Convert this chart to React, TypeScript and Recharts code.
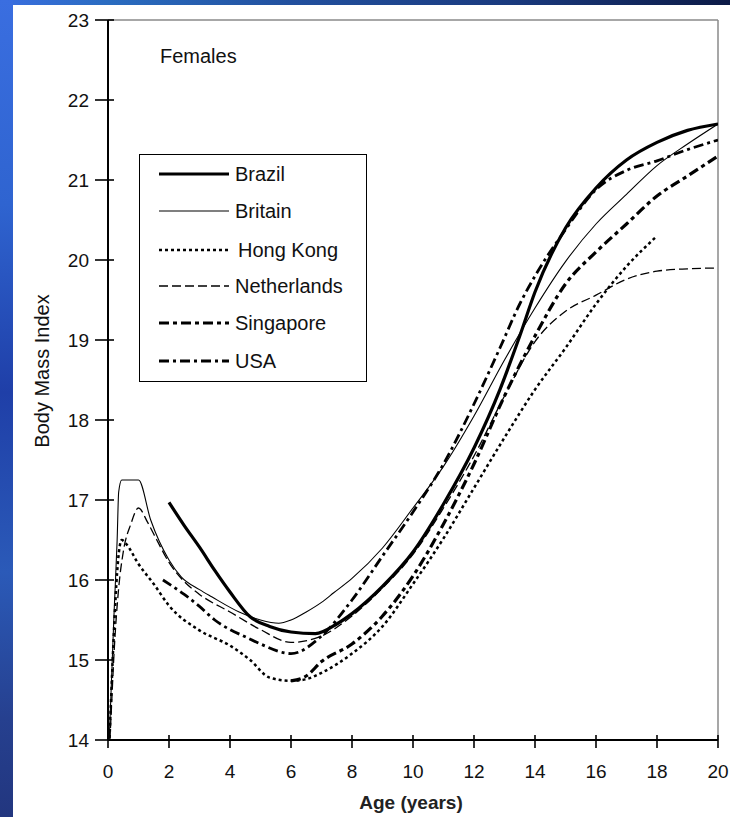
import React from 'react';
import { LineChart, Line, XAxis, YAxis, ReferenceLine, Legend, Label } from 'recharts';

// ---- Data (age in years, median BMI) ----
const ageTicks = [0, 2, 4, 6, 8, 10, 12, 14, 16, 18, 20];
const bmiTicks = [14, 15, 16, 17, 18, 19, 20, 21, 22, 23];

const brazil = [
  [2, 16.97], [2.5, 16.68], [3, 16.41], [3.5, 16.12], [4, 15.85], [4.66, 15.54], [5.3, 15.42],
  [6, 15.35], [6.8, 15.33], [7.5, 15.45], [8, 15.58], [9, 15.92], [10, 16.35], [11, 16.95],
  [12, 17.65], [12.85, 18.38], [13.5, 19.05], [14, 19.6], [15, 20.4], [16, 20.9], [17, 21.25],
  [18, 21.47], [19, 21.62], [20, 21.7],
];
const britain = [
  [0, 13.6], [0.1, 14.6], [0.2, 15.6], [0.3, 16.5], [0.35, 17.1], [0.45, 17.25], [1.0, 17.25],
  [1.4, 16.75], [2, 16.25], [2.4, 16.04], [3, 15.88], [3.4, 15.79], [4.3, 15.6], [5, 15.5],
  [5.6, 15.46], [6, 15.5], [6.5, 15.6], [7, 15.72], [7.4, 15.84], [8, 16.02], [9, 16.4],
  [10, 16.9], [11, 17.42], [12, 18.05], [13, 18.75], [14, 19.4], [15, 19.98], [16, 20.45],
  [17, 20.82], [18, 21.18], [19, 21.45], [20, 21.7],
];
const hongKong = [
  [0, 13.5], [0.1, 14.5], [0.2, 15.4], [0.3, 16.1], [0.45, 16.5], [0.6, 16.45], [1, 16.2],
  [1.5, 15.95], [2, 15.68], [3, 15.37], [4, 15.18], [4.66, 15.0], [5.3, 14.78], [6, 14.74],
  [6.5, 14.76], [7, 14.84], [8, 15.08], [9, 15.42], [10, 15.95], [11, 16.52], [12, 17.15],
  [13, 17.78], [14, 18.38], [15, 18.9], [16, 19.45], [17, 19.92], [18, 20.3],
];
const netherlands = [
  [0, 13.5], [0.1, 14.3], [0.2, 15.1], [0.35, 15.9], [0.5, 16.35], [0.75, 16.7], [1, 16.9],
  [1.3, 16.72], [1.6, 16.5], [2, 16.22], [2.5, 15.98], [3, 15.82], [4, 15.6], [5, 15.38],
  [6, 15.22], [7, 15.3], [8, 15.55], [9, 15.9], [10, 16.32], [11, 16.9], [12, 17.55],
  [13, 18.3], [14, 18.98], [15, 19.36], [16, 19.56], [17, 19.76], [18, 19.86], [19, 19.89],
  [20, 19.9],
];
const singapore = [
  [6, 14.74], [6.5, 14.8], [7, 14.98], [8, 15.2], [9, 15.55], [10, 16.05], [11, 16.7],
  [12, 17.45], [13, 18.3], [14, 19.05], [15, 19.7], [16, 20.1], [17, 20.45], [18, 20.8],
  [19, 21.05], [20, 21.3],
];
const usa = [
  [1.8, 16.0], [2.5, 15.82], [3, 15.67], [3.5, 15.5], [4, 15.38], [4.5, 15.29], [5, 15.2],
  [6, 15.08], [7, 15.3], [8, 15.75], [9, 16.3], [10, 16.85], [11, 17.45], [12, 18.2],
  [12.85, 18.9], [13.5, 19.45], [14, 19.8], [15, 20.38], [16, 20.88], [17, 21.12],
  [18, 21.24], [19, 21.38], [20, 21.5],
];

const toRows = (pairs: number[][]) => pairs.map(([age, bmi]) => ({ age, bmi }));

const series = [
  { name: 'Brazil', data: brazil, width: 3.2, dash: undefined as string | undefined },
  { name: 'Britain', data: britain, width: 1.1, dash: undefined as string | undefined },
  { name: 'Hong Kong', data: hongKong, width: 2.5, dash: '3 3' },
  { name: 'Netherlands', data: netherlands, width: 1.3, dash: '9 4' },
  { name: 'Singapore', data: singapore, width: 3.2, dash: '10 4 4 4' },
  { name: 'USA', data: usa, width: 2.8, dash: '10 4 3 4' },
];

const FONT = '"Liberation Sans", Arial, sans-serif';

const YTick = (props: any) => {
  const { x, y, payload } = props;
  return (
    <g>
      <line x1={x - 13} x2={x + 6} y1={y} y2={y} stroke="#000" strokeWidth={1.6} />
      <text x={x - 19} y={y} dy="0.36em" textAnchor="end" fontSize={19} fontFamily={FONT} fill="#111">
        {payload.value}
      </text>
    </g>
  );
};

const XTick = (props: any) => {
  const { x, y, payload } = props;
  return (
    <g>
      <line x1={x} x2={x} y1={y - 5} y2={y + 8} stroke="#000" strokeWidth={1.6} />
      <text x={x} y={y + 31} dy="0.36em" textAnchor="middle" fontSize={19} fontFamily={FONT} fill="#111">
        {payload.value}
      </text>
    </g>
  );
};

const renderLegend = () => (
  <div
    style={{
      width: 228,
      height: 228,
      boxSizing: 'border-box',
      border: '1.5px solid #000',
      background: '#fff',
      position: 'relative',
      fontFamily: FONT,
    }}
  >
    {series.map((s, i) => {
      const top = [19, 56, 95, 131, 168, 206][i];
      return (
        <div key={s.name} style={{ position: 'absolute', left: 18, top: top - 12, height: 24, display: 'flex', alignItems: 'center' }}>
          <svg width={72} height={24} style={{ display: 'block' }}>
            <line x1={1} x2={71} y1={12} y2={12} stroke="#000" strokeWidth={s.width} strokeDasharray={s.dash} />
          </svg>
          <span style={{ fontSize: 20, color: '#111', marginLeft: s.name === 'Hong Kong' ? 8 : 5, whiteSpace: 'nowrap' }}>{s.name}</span>
        </div>
      );
    })}
  </div>
);

export default function App() {
  return (
    <div style={{ position: 'absolute', left: 0, top: 0, width: 730, height: 817, background: '#fff', overflow: 'hidden' }}>
      <div
        style={{
          position: 'absolute', left: 0, top: 0, width: 730, height: 5,
          background: 'linear-gradient(to right, #3a6ee0 0%, #2a6cc0 15%, #22509e 40%, #1a3a7e 70%, #0c1a46 100%)',
        }}
      />
      <div
        style={{
          position: 'absolute', left: 0, top: 0, width: 13, height: 817,
          background: 'linear-gradient(to bottom, #3a6ee0 0%, #2f64d0 25%, #1f3fa8 48%, #2b5ab8 70%, #26408f 88%, #22367f 100%)',
        }}
      />
      <div style={{ position: 'absolute', left: 0, top: 0 }}>
        <LineChart width={730} height={817} margin={{ top: 20, right: 12, left: 0, bottom: 0 }}>
          <XAxis
            type="number"
            dataKey="age"
            domain={[0, 20]}
            ticks={ageTicks}
            interval={0}
            height={77}
            tickSize={0}
            tickMargin={0}
            tick={<XTick />}
            axisLine={{ stroke: '#000', strokeWidth: 2 }}
            tickLine={false}
            allowDataOverflow
          >
            <Label
              content={() => (
                <text x={411} y={802} textAnchor="middle" dy="0.36em" fontSize={19} fontWeight="bold" fontFamily={FONT} fill="#222">
                  Age (years)
                </text>
              )}
            />
          </XAxis>
          <YAxis
            type="number"
            dataKey="bmi"
            domain={[14, 23]}
            ticks={bmiTicks}
            interval={0}
            width={108}
            tickSize={0}
            tickMargin={0}
            tick={<YTick />}
            axisLine={{ stroke: '#000', strokeWidth: 2 }}
            tickLine={false}
            allowDataOverflow
          >
            <Label
              content={() => (
                <text
                  x={42}
                  y={371}
                  transform="rotate(-90 42 371)"
                  textAnchor="middle"
                  dy="0.36em"
                  fontSize={20}
                  fontFamily={FONT}
                  fill="#111"
                >
                  Body Mass Index
                </text>
              )}
            />
          </YAxis>
          <ReferenceLine y={23} stroke="#8a8a8a" strokeWidth={1.5} />
          <ReferenceLine x={20} stroke="#8a8a8a" strokeWidth={1.5} />
          {series.map((s) => (
            <Line
              key={s.name}
              name={s.name}
              data={toRows(s.data)}
              dataKey="bmi"
              type="monotone"
              stroke="#000"
              strokeWidth={s.width}
              strokeDasharray={s.dash}
              dot={false}
              activeDot={false}
              isAnimationActive={false}
            />
          ))}
          <Legend
            layout="vertical"
            align="center"
            verticalAlign="middle"
            content={renderLegend}
            wrapperStyle={{ position: 'absolute', left: 139, top: 154, width: 228, height: 228 }}
          />
        </LineChart>
      </div>
      <div style={{ position: 'absolute', left: 160, top: 45, fontSize: 20, fontFamily: FONT, color: '#111' }}>Females</div>
    </div>
  );
}
